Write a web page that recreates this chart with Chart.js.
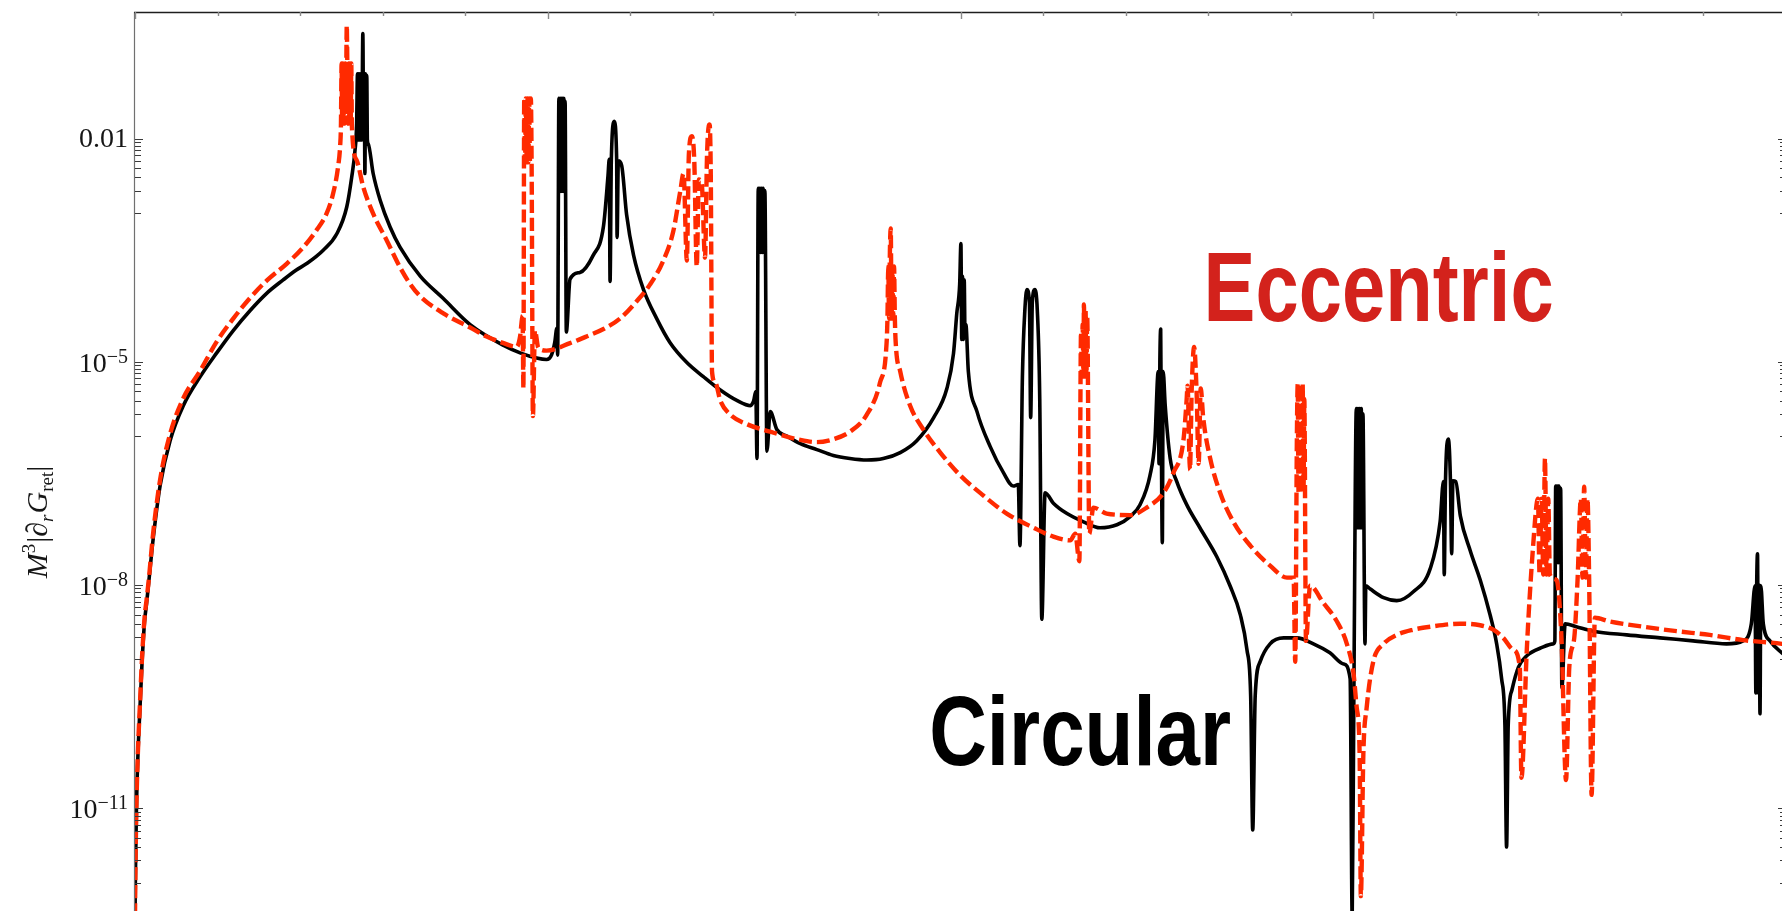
<!DOCTYPE html>
<html>
<head>
<meta charset="utf-8">
<title>Retarded Green function derivative</title>
<script src="https://cdn.jsdelivr.net/npm/chart.js@4.4.1/dist/chart.umd.min.js"></script>
<style>
  html, body { margin: 0; padding: 0; background: #ffffff; overflow: hidden; }
  #wrap { width: 1790px; height: 911px; }
</style>
</head>
<body>
<div id="wrap"><canvas id="green-chart" width="1790" height="911"></canvas></div>
<script>
// ---- data ----
// time axis: arbitrary units, one major tick every 100
// values are log10( M^3 |d_r G_ret| ), the figure uses a log axis
// (dense zig-zags stand for the thick oscillating bundles at each resonance)

const circularT = [
    0.0, 0.1, 0.35, 0.7, 1.2, 1.7, 2.3, 2.8, 3.3, 4.4,
    6.1, 8.5, 11.7, 15.8, 19.8, 23.8, 27.9, 31.9, 35.9, 39.0,
    41.6, 45.6, 48.9, 51.3, 52.5, 53.3, 53.7, 53.9, 54.05, 54.2,
    54.35, 54.5, 54.65, 54.8, 54.95, 55.2, 55.4, 55.55, 55.7, 55.85,
    56.0, 56.15, 56.3, 56.5, 57.7, 59.4, 61.8, 64.2, 69.1, 74.7,
    81.2, 89.3, 93.3, 97.3, 99.7, 100.9, 101.7, 102.2, 102.4, 102.7,
    102.85, 103.0, 103.15, 103.3, 103.45, 103.6, 103.75, 103.9, 104.05, 104.2,
    104.5, 105.4, 107.8, 111.0, 113.5, 114.6, 114.9, 115.1, 115.4, 116.1,
    116.7, 116.8, 117.1, 117.9, 119.1, 120.8, 123.2, 126.4, 129.6, 133.7,
    137.7, 141.8, 145.8, 149.1, 149.9, 150.4, 150.7, 151.0, 151.2, 151.4,
    151.6, 151.8, 152.0, 152.2, 152.4, 152.6, 153.1, 153.9, 155.5, 158.0,
    161.2, 165.2, 169.2, 173.2, 177.3, 181.3, 185.4, 189.4, 193.5, 196.7,
    198.3, 199.1, 199.8, 200.1, 200.3, 200.5, 200.7, 200.9, 201.1, 201.3,
    201.9, 204.0, 207.2, 210.4, 212.8, 214.0, 214.4, 215.0, 215.6, 216.1,
    216.7, 217.0, 217.4, 218.0, 218.6, 219.2, 219.7, 220.5, 222.5, 225.8,
    229.8, 233.8, 237.9, 241.1, 243.5, 245.9, 247.1, 247.9, 248.1, 248.3,
    248.5, 248.7, 248.9, 249.1, 249.6, 250.8, 252.4, 254.8, 258.0, 262.1,
    265.3, 267.8, 269.4, 270.3, 270.8, 271.4, 272.6, 275.0, 278.3, 281.5,
    285.5, 289.5, 292.8, 294.4, 294.9, 295.3, 295.9, 296.1, 296.3, 296.5,
    296.7, 296.9, 297.1, 297.3, 297.5, 298.0, 298.2, 299.2, 302.5, 305.7,
    309.7, 313.8, 316.2, 317.0, 317.2, 317.5, 318.2, 318.7, 319.0, 319.3,
    320.0, 321.1, 323.5, 325.9, 328.3, 329.9, 331.1, 331.9, 332.3, 332.7,
    333.6, 335.2, 337.2, 340.4, 343.6, 344.0, 344.2, 344.4, 344.6, 344.8,
    345.0, 345.2, 345.4, 345.7, 346.5, 349.2, 353.3, 361.4, 369.5, 377.5,
    385.6, 389.6, 391.6, 392.5, 392.7, 392.9, 393.1, 393.3, 393.5, 393.7,
    393.9, 394.5, 396.1, 399.0, 400.0
];
const circularLogG = [
    -12.45, -11.9, -11.0, -10.3, -9.66, -9.05, -8.50, -8.25, -7.98, -7.38,
    -6.66, -6.06, -5.59, -5.20, -4.88, -4.58, -4.31, -4.08, -3.90, -3.77,
    -3.68, -3.50, -3.28, -2.92, -2.52, -2.16, -1.80, -1.13, -2.02, -1.13,
    -2.02, -1.13, -2.02, -1.13, -2.02, -0.59, -2.02, -1.13, -2.47, -1.13,
    -2.02, -1.15, -2.02, -2.07, -2.47, -2.83, -3.19, -3.46, -3.85, -4.15,
    -4.50, -4.78, -4.88, -4.95, -4.97, -4.91, -4.74, -4.55, -4.91, -1.46,
    -2.71, -1.46, -2.71, -1.46, -2.71, -1.46, -2.71, -1.46, -2.71, -1.50,
    -4.60, -3.89, -3.80, -3.57, -3.18, -2.50, -2.28, -3.92, -2.30, -1.77,
    -2.30, -3.33, -2.30, -2.36, -3.02, -3.57, -4.03, -4.42, -4.74, -5.01,
    -5.20, -5.38, -5.52, -5.59, -5.52, -5.40, -6.30, -2.67, -3.53, -2.67,
    -3.53, -2.67, -3.53, -2.67, -3.53, -2.70, -6.20, -5.67, -5.91, -6.00,
    -6.10, -6.18, -6.26, -6.30, -6.32, -6.30, -6.22, -6.06, -5.75, -5.36,
    -4.89, -4.35, -3.96, -3.41, -4.70, -3.85, -4.70, -3.90, -4.65, -4.50,
    -5.13, -5.67, -6.14, -6.49, -6.67, -6.65, -7.47, -5.20, -4.30, -4.03,
    -4.20, -5.75, -4.20, -4.03, -4.30, -5.50, -8.46, -6.76, -6.90, -7.04,
    -7.15, -7.23, -7.19, -7.08, -6.92, -6.53, -6.06, -5.13, -6.37, -5.00,
    -4.56, -6.37, -7.43, -5.13, -5.59, -6.30, -6.61, -6.92, -7.23, -7.62,
    -8.01, -8.40, -8.87, -9.49, -11.29, -9.49, -9.03, -8.79, -8.71, -8.71,
    -8.79, -8.91, -9.06, -9.26, -12.45, -9.50, -5.63, -7.23, -5.63, -7.23,
    -5.63, -7.23, -5.63, -7.23, -5.70, -8.79, -8.01, -8.05, -8.17, -8.21,
    -8.09, -7.78, -7.15, -6.61, -7.86, -6.61, -6.04, -6.60, -7.58, -6.60,
    -6.61, -7.07, -7.54, -7.93, -8.40, -8.79, -9.26, -9.88, -11.52, -9.88,
    -9.41, -9.10, -8.95, -8.85, -8.79, -8.75, -6.67, -7.70, -6.67, -7.70,
    -6.67, -7.70, -6.70, -9.38, -8.52, -8.56, -8.62, -8.67, -8.71, -8.75,
    -8.79, -8.75, -8.52, -8.01, -9.45, -8.00, -7.58, -9.45, -8.00, -9.73,
    -8.01, -8.52, -8.75, -8.91, -8.95
];

const eccentricT = [
    0.0, 0.1, 0.35, 0.7, 1.2, 1.7, 2.3, 2.8, 3.3, 4.4,
    6.1, 8.5, 11.7, 15.8, 19.8, 23.8, 27.9, 31.9, 36.8, 40.8,
    44.0, 46.4, 48.0, 49.2, 49.7, 49.9, 50.05, 50.2, 50.35, 50.5,
    50.65, 50.8, 50.95, 51.1, 51.3, 51.5, 51.65, 51.8, 51.95, 52.1,
    52.25, 52.4, 52.55, 53.7, 55.3, 57.7, 61.0, 64.2, 66.6, 69.1,
    74.7, 81.2, 85.2, 89.3, 92.5, 93.3, 93.9, 94.1, 94.3, 94.5,
    94.7, 94.9, 95.1, 95.3, 95.5, 95.7, 95.9, 96.1, 96.4, 96.9,
    97.7, 99.7, 105.4, 109.4, 113.5, 117.5, 121.5, 124.8, 128.0, 130.4,
    132.1, 132.9, 133.7, 134.2, 134.9, 135.5, 136.1, 136.6, 137.3, 138.1,
    138.6, 139.2, 139.5, 139.8, 140.6, 141.8, 144.2, 148.3, 153.9, 161.2,
    165.2, 169.2, 173.2, 177.3, 180.5, 182.1, 182.3, 182.5, 182.7, 182.9,
    183.1, 183.3, 183.5, 183.7, 183.9, 184.1, 184.3, 185.4, 187.8, 191.0,
    195.1, 200.0, 205.6, 211.2, 217.7, 222.5, 226.6, 227.8, 228.8, 229.2,
    229.4, 229.6, 229.8, 229.9, 230.1, 230.3, 230.5, 230.7, 231.2, 232.2,
    235.4, 241.1, 245.1, 249.2, 251.6, 254.0, 254.8, 255.0, 255.6, 256.0,
    256.6, 257.2, 257.7, 258.2, 258.8, 260.5, 262.9, 266.1, 270.2, 275.0,
    279.1, 280.7, 281.1, 281.5, 281.7, 281.9, 282.1, 282.3, 282.5, 282.7,
    282.9, 283.1, 283.3, 283.7, 284.7, 287.9, 291.1, 293.6, 295.2, 296.0,
    296.7, 297.0, 297.6, 298.4, 300.0, 302.5, 305.7, 309.7, 313.8, 321.0,
    325.9, 329.1, 331.5, 333.9, 335.5, 335.9, 337.2, 338.7, 339.9, 340.3,
    340.8, 341.2, 341.6, 342.0, 342.4, 342.8, 344.4, 345.6, 346.7, 347.5,
    348.7, 349.5, 350.3, 350.7, 351.1, 351.5, 351.9, 352.3, 352.9, 353.7,
    357.3, 365.4, 373.5, 381.5, 389.6, 399.0, 400.0
];
const eccentricLogG = [
    -12.45, -11.85, -10.95, -10.25, -9.60, -8.98, -8.45, -8.20, -7.95, -7.30,
    -6.58, -5.97, -5.49, -5.12, -4.73, -4.42, -4.14, -3.91, -3.68, -3.46,
    -3.23, -3.01, -2.74, -2.38, -2.10, -1.80, -0.99, -1.80, -0.99, -1.80,
    -0.99, -1.80, -0.99, -1.60, -0.48, -1.30, -1.80, -0.99, -1.80, -0.99,
    -1.80, -0.99, -1.84, -2.29, -2.65, -3.01, -3.37, -3.73, -3.95, -4.12,
    -4.35, -4.54, -4.66, -4.75, -4.80, -4.66, -4.38, -5.36, -1.46, -2.32,
    -1.46, -2.32, -1.46, -2.32, -1.46, -2.32, -1.46, -2.40, -5.73, -4.58,
    -4.81, -4.85, -4.75, -4.66, -4.56, -4.42, -4.19, -3.96, -3.64, -3.25,
    -2.71, -2.47, -3.64, -2.20, -1.97, -2.30, -3.72, -2.55, -2.60, -3.60,
    -2.20, -1.81, -2.50, -5.13, -5.28, -5.52, -5.71, -5.84, -5.94, -6.05,
    -6.08, -6.04, -5.94, -5.71, -5.28, -4.74, -4.42, -3.72, -4.42, -3.50,
    -3.21, -4.42, -3.72, -4.42, -3.72, -4.42, -4.74, -5.13, -5.59, -5.91,
    -6.22, -6.53, -6.80, -7.04, -7.23, -7.35, -7.40, -7.31, -7.68, -4.60,
    -5.20, -4.50, -5.20, -4.23, -5.20, -4.30, -5.20, -4.40, -7.31, -6.96,
    -7.04, -7.06, -6.96, -6.76, -6.49, -6.06, -5.50, -5.32, -6.45, -5.40,
    -4.80, -5.40, -6.37, -5.36, -5.75, -6.30, -6.76, -7.15, -7.47, -7.74,
    -7.90, -7.90, -9.03, -6.00, -5.30, -6.76, -5.30, -6.76, -5.30, -6.76,
    -5.30, -6.76, -5.50, -8.75, -8.01, -8.24, -8.48, -8.79, -9.18, -9.65,
    -10.27, -12.18, -10.27, -9.65, -9.03, -8.79, -8.67, -8.60, -8.56, -8.52,
    -8.54, -8.60, -8.71, -8.87, -9.10, -10.59, -8.87, -7.50, -6.84, -7.86,
    -6.84, -7.86, -6.30, -7.86, -6.84, -7.86, -7.93, -8.71, -10.62, -9.10,
    -8.71, -7.93, -6.84, -7.90, -6.68, -7.90, -6.84, -7.90, -10.82, -8.44,
    -8.49, -8.56, -8.62, -8.67, -8.74, -8.79, -8.80
];

// axis ticks
const yMajorExps = [-2, -5, -8, -11];
const yTickLabels = ['0.01', '10^\u22125', '10^\u22128', '10^\u221211'];
const xMajorTicks = [0, 100, 200, 300, 400];
const xMinorStep = 20;

// in-plot curve names (t, log10 value at text baseline)
const curveNames = [
    { text: 'Eccentric', t: 258.9, logG: -4.45, width: 350, color: '#d3221c' },
    { text: 'Circular', t: 192.4, logG: -10.42, width: 302, color: '#000000' }
];

const SERIF = '"Liberation Serif", "Times New Roman", "DejaVu Serif", serif';
const SANS = '"Liberation Sans", Arial, Helvetica, sans-serif';

function toPoints(ts, vs) {
    return ts.map((t, i) => ({ x: t, y: vs[i] }));
}

// draw a run of text pieces (super/subscripts), returns width
function drawPieces(ctx, pieces, x, y, measureOnly) {
    let cx = x;
    pieces.forEach(p => {
        ctx.font = p.font;
        if (!measureOnly) ctx.fillText(p.text, cx, y + (p.dy || 0));
        cx += ctx.measureText(p.text).width + (p.gap || 0);
    });
    return cx - x;
}

// frame, ticks, labels - drawn on top through the chart scales
const frameAndLabels = {
    id: 'frameAndLabels',
    afterDatasetsDraw(chart) {
        const ctx = chart.ctx;
        const area = chart.chartArea;
        const xs = chart.scales.x;
        const ys = chart.scales.y;
        ctx.save();

        // frame
        ctx.lineCap = 'butt';
        ctx.strokeStyle = '#707070';
        ctx.lineWidth = 1.2;
        ctx.beginPath();
        ctx.moveTo(area.left - 0.5, area.top);
        ctx.lineTo(area.left - 0.5, area.bottom);
        ctx.moveTo(area.right, area.top);
        ctx.lineTo(area.right, area.bottom);
        ctx.stroke();
        ctx.strokeStyle = '#1e1e1e';
        ctx.lineWidth = 1.5;
        ctx.beginPath();
        ctx.moveTo(area.left - 1, area.top + 0.5);
        ctx.lineTo(area.right, area.top + 0.5);
        ctx.stroke();

        // top ticks
        ctx.strokeStyle = '#8a8a8a';
        ctx.lineWidth = 1.4;
        ctx.beginPath();
        for (let v = xs.min; v <= xs.max + 0.001; v += xMinorStep) {
            const px = Math.round(xs.getPixelForValue(v)) + 0.5;
            const len = xMajorTicks.includes(Math.round(v)) ? 7 : 4;
            ctx.moveTo(px, area.top);
            ctx.lineTo(px, area.top + len);
        }
        ctx.stroke();

        // log ticks left and right
        ctx.strokeStyle = '#3a3a3a';
        ctx.lineWidth = 1.1;
        ctx.beginPath();
        yMajorExps.forEach(e => {
            for (let k = 1; k <= 10; k++) {
                const v = e - 1 + Math.log10(k);
                const py = Math.round(ys.getPixelForValue(v)) + 0.5;
                const len = k === 10 ? 8 : 6;
                ctx.moveTo(area.left, py);
                ctx.lineTo(area.left + len, py);
                ctx.moveTo(area.right, py);
                ctx.lineTo(area.right - len, py);
            }
        });
        ctx.stroke();

        // tick labels
        ctx.fillStyle = '#161616';
        ctx.textBaseline = 'alphabetic';
        ctx.textAlign = 'left';
        const labelRight = area.left - 7;
        yMajorExps.forEach((e, i) => {
            const py = ys.getPixelForValue(e);
            const label = yTickLabels[i];
            if (label.includes('^')) {
                const [base, exp] = label.split('^');
                const pieces = [
                    { text: base, font: '28px ' + SERIF },
                    { text: exp, font: '20px ' + SERIF, dy: -9 }
                ];
                const w = drawPieces(ctx, pieces, 0, 0, true);
                drawPieces(ctx, pieces, labelRight - w, py + 10);
            } else {
                const pieces = [{ text: label, font: '28px ' + SERIF }];
                const w = drawPieces(ctx, pieces, 0, 0, true);
                drawPieces(ctx, pieces, labelRight - w, py + 8);
            }
        });

        // y title  M^3 |d_r G_ret|
        const title = [
            { text: 'M', font: 'italic 30px ' + SERIF },
            { text: '3', font: '19px ' + SERIF, dy: -12, gap: 1 },
            { text: '|', font: '30px ' + SERIF },
            { text: '\u2202', font: 'italic 30px ' + SERIF },
            { text: 'r', font: 'italic 19px ' + SERIF, dy: 6, gap: 1 },
            { text: 'G', font: 'italic 30px ' + SERIF },
            { text: 'ret', font: '19px ' + SERIF, dy: 6 },
            { text: '|', font: '30px ' + SERIF }
        ];
        ctx.save();
        ctx.translate(47, 522);
        ctx.rotate(-Math.PI / 2);
        const tw = drawPieces(ctx, title, 0, 0, true);
        drawPieces(ctx, title, -tw / 2, 0);
        ctx.restore();

        // curve names
        curveNames.forEach(n => {
            ctx.save();
            ctx.font = 'bold 98px ' + SANS;
            ctx.fillStyle = n.color;
            const w = ctx.measureText(n.text).width;
            const px = xs.getPixelForValue(n.t);
            const py = ys.getPixelForValue(n.logG);
            ctx.translate(px, py);
            ctx.scale(n.width / w, 1);
            ctx.fillText(n.text, 0, 0);
            ctx.restore();
        });

        ctx.restore();
    }
};

const canvas = document.getElementById('green-chart');
const greenChart = new Chart(canvas, {
    type: 'line',
    data: {
        datasets: [
            {
                label: 'Eccentric',
                data: toPoints(eccentricT, eccentricLogG),
                borderColor: '#ff2a00',
                borderWidth: 4.4,
                borderDash: [13, 5],
                borderJoinStyle: 'round',
                cubicInterpolationMode: 'monotone',
                pointRadius: 0,
                fill: false,
                order: 0
            },
            {
                label: 'Circular',
                data: toPoints(circularT, circularLogG),
                borderColor: '#000000',
                borderWidth: 3.6,
                borderJoinStyle: 'round',
                cubicInterpolationMode: 'monotone',
                pointRadius: 0,
                fill: false,
                order: 1
            }
        ]
    },
    options: {
        responsive: false,
        animation: false,
        devicePixelRatio: 1,
        layout: { padding: { left: 135, top: 12, right: 4, bottom: 0 } },
        plugins: {
            legend: { display: false },
            tooltip: { enabled: false },
            title: { display: false }
        },
        scales: {
            x: { type: 'linear', min: 0, max: 400, display: false },
            y: { type: 'linear', min: -12.38, max: -0.30, display: false }
        }
    },
    plugins: [frameAndLabels]
});
</script>
</body>
</html>
